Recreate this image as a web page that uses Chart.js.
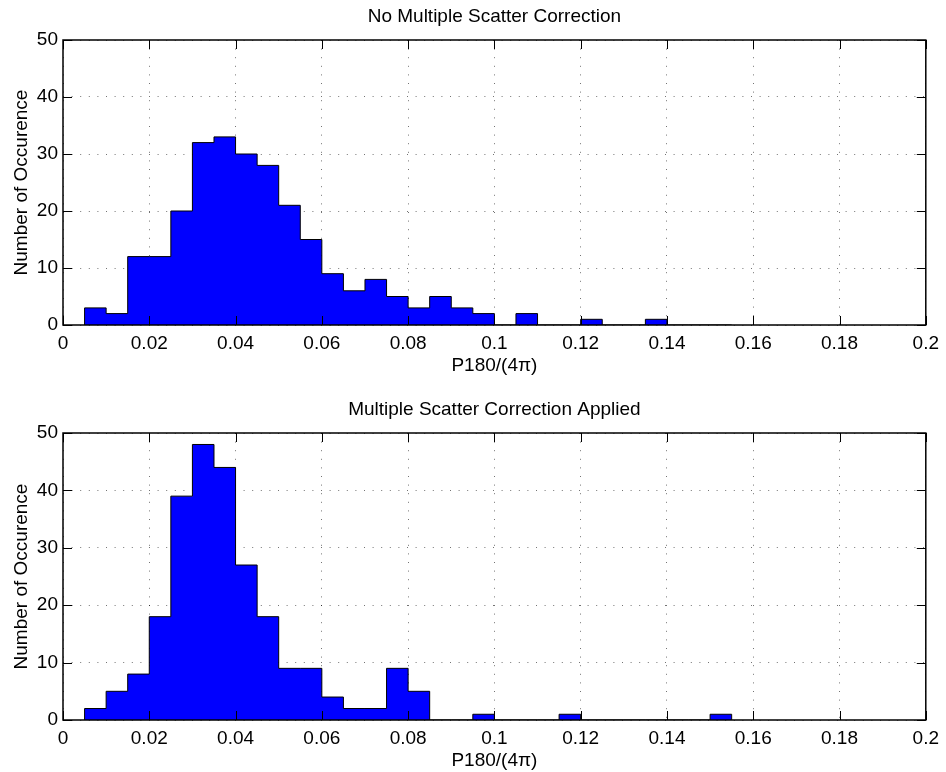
<!DOCTYPE html>
<html>
<head>
<meta charset="utf-8">
<script src="https://cdn.jsdelivr.net/npm/chart.js@4.4.1/dist/chart.umd.min.js"></script>
<style>
  body { margin: 0; background: #fff; }
  canvas { display: block; }
</style>
</head>
<body>
<canvas id="noCorr" width="946" height="386"></canvas>
<canvas id="withCorr" width="946" height="386"></canvas>
<script>
// left edge of each histogram bin (width 0.005)
const binStart = [0.005, 0.010, 0.015, 0.020, 0.025, 0.030, 0.035, 0.040, 0.045, 0.050,
                  0.055, 0.060, 0.065, 0.070, 0.075, 0.080, 0.085, 0.090, 0.095, 0.100,
                  0.105, 0.110, 0.115, 0.120, 0.125, 0.130, 0.135, 0.140, 0.145, 0.150];
const binWidth = 0.005;

const countsNoCorr = [3, 2, 12, 12, 20, 32, 33, 30, 28, 21,
                      15, 9, 6, 8, 5, 3, 5, 3, 2, 0,
                      2, 0, 0, 1, 0, 0, 1, 0, 0, 0];
const countsCorr   = [2, 5, 8, 18, 39, 48, 44, 27, 18, 9,
                      9, 4, 2, 2, 9, 5, 0, 0, 1, 0,
                      0, 0, 1, 0, 0, 0, 0, 0, 0, 1];

const xTicks = [0, 0.02, 0.04, 0.06, 0.08, 0.1, 0.12, 0.14, 0.16, 0.18, 0.2];
const xTickLabels = ['0', '0.02', '0.04', '0.06', '0.08', '0.1', '0.12', '0.14', '0.16', '0.18', '0.2'];
const yTicks = [0, 10, 20, 30, 40, 50];
const yTickLabels = ['0', '10', '20', '30', '40', '50'];

const FONT = "'Liberation Sans', Helvetica, Arial, sans-serif";
Chart.defaults.font.family = FONT;
Chart.defaults.font.size = 19;
Chart.defaults.color = '#000';

// box round the axes with inward ticks on all four sides, matlab style
const frame = {
  id: 'frame',
  afterDraw(chart) {
    const {ctx, chartArea: a, scales: {x, y}} = chart;
    const tl = 9;
    ctx.save();
    ctx.strokeStyle = '#000';
    ctx.lineWidth = 1;
    ctx.beginPath();
    x.ticks.forEach(t => {
      const px = Math.round(x.getPixelForValue(t.value)) + 0.5;
      ctx.moveTo(px, a.bottom); ctx.lineTo(px, a.bottom - tl);
      ctx.moveTo(px, a.top); ctx.lineTo(px, a.top + tl);
    });
    y.ticks.forEach(t => {
      const py = Math.round(y.getPixelForValue(t.value)) + 0.5;
      ctx.moveTo(a.left, py); ctx.lineTo(a.left + tl, py);
      ctx.moveTo(a.right, py); ctx.lineTo(a.right - tl, py);
    });
    ctx.stroke();
    ctx.lineWidth = 1.5;
    ctx.strokeRect(a.left, a.top, a.right - a.left, a.bottom - a.top);
    ctx.restore();
  }
};

function stairs(counts) {
  // points at bin starts, drawn as steps; closed to zero at both ends
  let pts = [{x: binStart[0], y: 0}];
  counts.forEach((c, i) => pts.push({x: binStart[i], y: c}));
  pts.push({x: binStart[binStart.length - 1] + binWidth, y: 0});
  return pts;
}

function makeChart(id, title, counts, lay) {
  let ctx = document.getElementById(id).getContext('2d');
  return new Chart(ctx, {
    type: 'line',
    data: {
      datasets: [{
        data: stairs(counts),
        stepped: 'before',
        fill: 'origin',
        backgroundColor: '#0000ff',
        borderColor: '#000',
        borderWidth: 1,
        pointRadius: 0
      }]
    },
    options: {
      responsive: false,
      animation: false,
      layout: { padding: { left: 0, right: 18, top: 0, bottom: 0 } },
      plugins: { legend: { display: false }, tooltip: { enabled: false } },
      scales: {
        x: {
          type: 'linear',
          min: 0, max: 0.2,
          afterBuildTicks: s => { s.ticks = xTicks.map(v => ({value: v})); },
          afterFit: s => { s.height = lay.xH; },
          ticks: { padding: 7, maxRotation: 0, callback: (v, i) => xTickLabels[i] },
          grid: { color: 'rgba(0,0,0,0.55)', lineWidth: 1, drawTicks: false },
          border: { display: false, dash: [1, 7.6] },
          title: { display: true, text: 'P180/(4\u03c0)', padding: { top: 0, bottom: lay.xlabelPad } }
        },
        x2: {
          type: 'linear',
          position: 'top',
          min: 0, max: 0.2,
          afterFit: s => { s.height = lay.topH; },
          ticks: { display: false },
          grid: { display: false },
          border: { display: false },
          title: { display: true, text: title, padding: { top: lay.titlePad, bottom: 0 } }
        },
        y: {
          min: 0, max: 50,
          afterBuildTicks: s => { s.ticks = yTicks.map(v => ({value: v})); },
          afterFit: s => { s.width = 63; },
          ticks: { padding: 5, callback: (v, i) => yTickLabels[i] },
          grid: { color: 'rgba(0,0,0,0.55)', lineWidth: 1, drawTicks: false },
          border: { display: false, dash: [1, 7.6] },
          title: { display: true, text: 'Number of Occurence', padding: { top: 10.6, bottom: 0 } }
        }
      }
    },
    plugins: [frame]
  });
}

makeChart('noCorr', 'No Multiple Scatter Correction', countsNoCorr,
          { topH: 40, titlePad: 5.6, xH: 61, xlabelPad: 8.6 });
makeChart('withCorr', 'Multiple Scatter Correction Applied', countsCorr,
          { topH: 47, titlePad: 12.6, xH: 52, xlabelPad: 0 });
</script>
</body>
</html>
